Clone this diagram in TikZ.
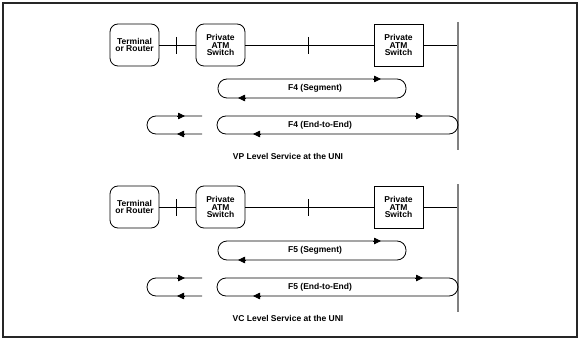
\documentclass[tikz,border=0pt]{standalone}
\usepackage{fontspec}
\setmainfont{Liberation Sans}
\usetikzlibrary{arrows.meta, positioning}

\begin{document}
\begin{tikzpicture}[x=1pt, y=-1pt,
    lbl/.style={font=\bfseries\fontsize{8.5}{7.8}\selectfont, inner sep=0pt},
    unit/.style={draw, lbl, align=center, minimum width=49pt, minimum height=42pt, line width=0.8pt},
    endbox/.style={unit, rounded corners=8pt},
    oamloop/.style={line width=0.8pt, rounded corners=9pt},
    tip/.style={-{Triangle[length=7pt, width=6.5pt]}, line width=0.8pt}]
  \useasboundingbox (0,0) rectangle (580,339);
  \draw[line width=1.5pt, black!85] (3,3) rectangle (577,337);
  % VP level
  \node[endbox] (term1) at (134.5,45) {Terminal\\or Router};
  \node[endbox] (psw1) at (220.5,45) {Private\\ATM\\Switch};
  \node[unit] (asw1) at (398.5,45) {Private\\ATM\\Switch};
  \coordinate (uni1) at (458,45);
  \draw[line width=0.8pt] (term1) -- (psw1) -- (asw1) -- (uni1);
  \draw[line width=0.8pt] (176,37) -- (176,54);
  \draw[line width=0.8pt] (308,37) -- (308,54);
  \draw[gray, line width=1.2pt] (458,22) -- (458,150);
  % F4 segment
  \draw[oamloop] (218,79) rectangle (406,98);
  \node[lbl, right] (seg1) at (288,88.5) {F4 (Segment)};
  \draw[tip] (373,79) -- (381,79);
  \draw[tip] (246,98) -- (238,98);
  % F4 end-to-end
  \draw[oamloop] (217,116) rectangle (458,134);
  \node[lbl, right] (ete1) at (288,125) {F4 (End-to-End)};
  \draw[tip] (415,116) -- (423,116);
  \draw[tip] (261,134) -- (253,134);
  \draw[oamloop] (202,116) -- (147,116) -- (147,134) -- (202,134);
  \draw[tip] (177,116) -- (185,116);
  \draw[tip] (185,134) -- (177,134);
  \node[lbl] (title1) at (288,156) {VP Level Service at the UNI};
  % VC level
  \node[endbox] (term2) at (134.5,207) {Terminal\\or Router};
  \node[endbox] (psw2) at (220.5,207) {Private\\ATM\\Switch};
  \node[unit] (asw2) at (398.5,207) {Private\\ATM\\Switch};
  \coordinate (uni2) at (458,207);
  \draw[line width=0.8pt] (term2) -- (psw2) -- (asw2) -- (uni2);
  \draw[line width=0.8pt] (176,199) -- (176,216);
  \draw[line width=0.8pt] (308,199) -- (308,216);
  \draw[gray, line width=1.2pt] (458,184) -- (458,312);
  % F5 segment
  \draw[oamloop] (218,241) rectangle (406,260);
  \node[lbl, right] (seg2) at (288,250.5) {F5 (Segment)};
  \draw[tip] (373,241) -- (381,241);
  \draw[tip] (246,260) -- (238,260);
  % F5 end-to-end
  \draw[oamloop] (217,278) rectangle (458,296);
  \node[lbl, right] (ete2) at (288,287) {F5 (End-to-End)};
  \draw[tip] (415,278) -- (423,278);
  \draw[tip] (261,296) -- (253,296);
  \draw[oamloop] (202,278) -- (147,278) -- (147,296) -- (202,296);
  \draw[tip] (177,278) -- (185,278);
  \draw[tip] (185,296) -- (177,296);
  \node[lbl] (title2) at (288,318) {VC Level Service at the UNI};
\end{tikzpicture}
\end{document}
